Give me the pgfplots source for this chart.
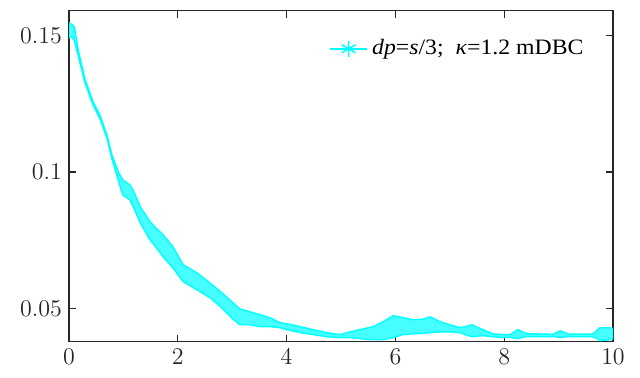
\documentclass[border=0pt]{standalone}
\usepackage{fontspec}
\setmainfont{Liberation Serif}
\newfontfamily\legfont[FakeStretch=1.08]{Liberation Serif}
\usepackage{pgfplots}
\pgfplotsset{compat=1.18}
\definecolor{axc}{RGB}{38,38,38}
\definecolor{cy}{RGB}{0,255,255}
\definecolor{cyf}{RGB}{70,255,255}
\begin{document}
\begin{tikzpicture}
\begin{axis}[
  scale only axis,
  width=272pt, height=165.5pt,
  xmin=0, xmax=10, ymin=0.038, ymax=0.159,
  xtick={0,2,4,6,8,10},
  ytick={0.05,0.1,0.15},
  yticklabels={$0.05$,$0.1$,$0.15$},
  scaled y ticks=false,
  tick align=inside, tick pos=both,
  major tick length=3.5pt,
  axis line style={axc, line width=0.6pt},
  every tick/.style={axc, line width=0.6pt},
  tick label style={font=\fontsize{13.2}{15}\selectfont, text=axc},
  legend style={at={(0.954,0.885)}, anchor=east, draw=none, fill=none,
    inner sep=0pt, font=\legfont\fontsize{11}{13}\selectfont},
  legend cell align=left,
  legend image code/.code={\draw[mark repeat=2,mark phase=2,#1] plot coordinates {(0cm,0cm) (0.33cm,0cm) (0.66cm,0cm)};},
]
\addplot[draw=cy, fill=cyf, line width=0.7pt, forget plot] coordinates {
(0.00,0.1545) (0.05,0.1540) (0.10,0.1530) (0.17,0.1445) (0.29,0.1342)
(0.44,0.1258) (0.57,0.1207) (0.70,0.1134) (0.79,0.1062) (0.85,0.1030)
(0.92,0.0995) (0.99,0.0971) (1.12,0.0953) (1.20,0.0925) (1.31,0.0873)
(1.49,0.0818) (1.60,0.0795) (1.73,0.0771) (1.91,0.0727) (2.10,0.0661)
(2.35,0.0632) (2.59,0.0595) (2.80,0.0560) (3.00,0.0525) (3.14,0.0500)
(3.33,0.0489) (3.51,0.0479) (3.69,0.0468) (3.88,0.0449) (4.00,0.0446)
(4.25,0.0435) (4.49,0.0424) (4.74,0.0413) (4.98,0.0406) (5.17,0.0416)
(5.35,0.0424) (5.59,0.0435) (5.77,0.0453) (5.96,0.0475) (6.14,0.0468)
(6.32,0.0460) (6.50,0.0462) (6.64,0.0471) (6.82,0.0453) (7.00,0.0442)
(7.19,0.0431) (7.30,0.0436) (7.41,0.0442) (7.50,0.0433) (7.61,0.0424)
(7.79,0.0409) (7.98,0.0406) (8.10,0.0405) (8.25,0.0424) (8.38,0.0412)
(8.47,0.0409) (8.71,0.0408) (8.90,0.0407) (9.03,0.0420) (9.18,0.0408)
(9.34,0.0408) (9.63,0.0408) (9.70,0.0420) (9.76,0.0431) (9.94,0.0431)
(10.00,0.0428)
(10.00,0.0390) (9.94,0.0387) (9.76,0.0384) (9.70,0.0392) (9.63,0.0398)
(9.34,0.0398) (9.18,0.0399) (9.03,0.0395) (8.90,0.0399) (8.71,0.0398)
(8.47,0.0398) (8.38,0.0398) (8.25,0.0391) (8.10,0.0396) (7.98,0.0395)
(7.79,0.0398) (7.61,0.0402) (7.50,0.0400) (7.41,0.0398) (7.30,0.0405)
(7.19,0.0413) (7.00,0.0416) (6.82,0.0416) (6.64,0.0413) (6.50,0.0410)
(6.32,0.0409) (6.14,0.0406) (5.96,0.0395) (5.77,0.0387) (5.59,0.0387)
(5.35,0.0391) (5.17,0.0395) (4.98,0.0395) (4.74,0.0398) (4.49,0.0406)
(4.25,0.0413) (4.00,0.0424) (3.88,0.0431) (3.69,0.0435) (3.51,0.0435)
(3.33,0.0442) (3.14,0.0442) (3.00,0.0465) (2.80,0.0505) (2.59,0.0541)
(2.35,0.0570) (2.10,0.0599) (1.91,0.0650) (1.73,0.0690) (1.60,0.0725)
(1.49,0.0752) (1.31,0.0814) (1.20,0.0865) (1.12,0.0898) (0.99,0.0916)
(0.92,0.0960) (0.85,0.1008) (0.79,0.1048) (0.70,0.1122) (0.57,0.1195)
(0.44,0.1246) (0.29,0.1328) (0.17,0.1425) (0.10,0.1480) (0.05,0.1495)
(0.00,0.1490)
} -- cycle;
\addlegendimage{cy, line width=0.8pt, mark=asterisk, mark size=4pt}
\addlegendentry{\textit{dp}=\textit{s}/3;\ \ \textit{κ}=1.2 mDBC}
\end{axis}
\path ([shift={(-34.5pt,-18pt)}]current axis.south west) rectangle ([shift={(13.5pt,5.35pt)}]current axis.north east);
\end{tikzpicture}
\end{document}
